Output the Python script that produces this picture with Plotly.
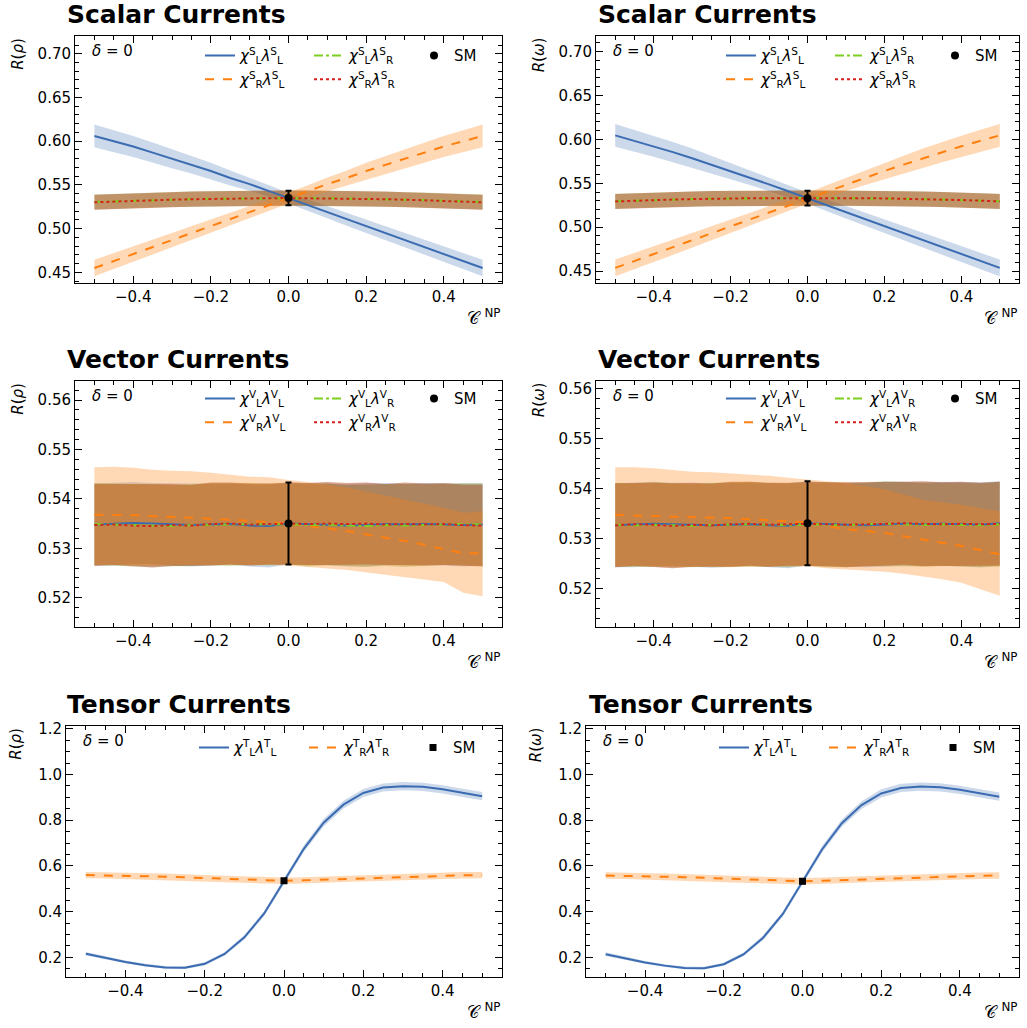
import plotly.graph_objects as go

W, H = 1027, 1028

# ---------------- data ----------------
c_np = [-0.5, -0.45, -0.4, -0.35, -0.3, -0.25, -0.2, -0.15, -0.1, -0.05, 0.0,
        0.05, 0.1, 0.15, 0.2, 0.25, 0.3, 0.35, 0.4, 0.45, 0.5]

# Scalar currents, R(rho)
S_rho_LL = [0.606, 0.600, 0.594, 0.587, 0.580, 0.573, 0.566, 0.558, 0.551, 0.543, 0.535,
            0.527, 0.519, 0.511, 0.503, 0.495, 0.487, 0.479, 0.471, 0.463, 0.455]
S_rho_LL_err = [0.013, 0.0125, 0.012, 0.0115, 0.011, 0.010, 0.0095, 0.0085, 0.0075, 0.0068, 0.0062,
                0.0065, 0.007, 0.0075, 0.008, 0.0083, 0.0086, 0.0089, 0.0091, 0.0093, 0.0095]
S_rho_RL = [0.455, 0.463, 0.471, 0.479, 0.487, 0.495, 0.503, 0.511, 0.519, 0.527, 0.535,
            0.543, 0.551, 0.558, 0.566, 0.573, 0.580, 0.587, 0.594, 0.600, 0.606]
S_rho_RL_err = [0.0095, 0.0093, 0.0091, 0.0089, 0.0086, 0.0083, 0.008, 0.0075, 0.007, 0.0065, 0.0062,
                0.0068, 0.0075, 0.0085, 0.0095, 0.010, 0.011, 0.0115, 0.012, 0.0125, 0.013]
S_rho_LR = [0.5305, 0.5313, 0.5320, 0.5327, 0.5333, 0.5338, 0.5342, 0.5345, 0.5348, 0.5350, 0.5350,
            0.5350, 0.5348, 0.5345, 0.5342, 0.5338, 0.5333, 0.5327, 0.5320, 0.5313, 0.5305]
S_rho_LR_err = [0.0085, 0.0085, 0.0086, 0.0086, 0.0086, 0.0087, 0.0087, 0.0087, 0.0087, 0.0087, 0.0087,
                0.0087, 0.0087, 0.0087, 0.0087, 0.0087, 0.0086, 0.0086, 0.0086, 0.0085, 0.0085]
S_rho_RR = [0.5302, 0.5311, 0.5319, 0.5326, 0.5332, 0.5337, 0.5342, 0.5346, 0.5348, 0.5349, 0.5350,
            0.5349, 0.5348, 0.5346, 0.5342, 0.5337, 0.5332, 0.5326, 0.5319, 0.5311, 0.5302]
S_rho_RR_err = [0.0085, 0.0085, 0.0086, 0.0086, 0.0086, 0.0087, 0.0087, 0.0087, 0.0087, 0.0087, 0.0087,
                0.0087, 0.0087, 0.0087, 0.0087, 0.0087, 0.0086, 0.0086, 0.0086, 0.0085, 0.0085]

# Scalar currents, R(omega)
S_om_LL = [0.6046, 0.5985, 0.5922, 0.5855, 0.5785, 0.5713, 0.5640, 0.5565, 0.5488, 0.5410, 0.5330,
           0.5250, 0.5170, 0.5090, 0.5010, 0.4930, 0.4850, 0.4772, 0.4694, 0.4615, 0.4536]
S_om_LL_err = [0.013, 0.0125, 0.012, 0.0115, 0.011, 0.010, 0.0095, 0.0085, 0.0075, 0.0068, 0.0062,
               0.0065, 0.007, 0.0075, 0.008, 0.0083, 0.0086, 0.0089, 0.0091, 0.0093, 0.0095]
S_om_RL = [0.4536, 0.4615, 0.4694, 0.4772, 0.4850, 0.4930, 0.5010, 0.5090, 0.5170, 0.5250, 0.5330,
           0.5410, 0.5488, 0.5565, 0.5640, 0.5713, 0.5785, 0.5855, 0.5922, 0.5985, 0.6046]
S_om_RL_err = [0.0095, 0.0093, 0.0091, 0.0089, 0.0086, 0.0083, 0.008, 0.0075, 0.007, 0.0065, 0.0062,
               0.0068, 0.0075, 0.0085, 0.0095, 0.010, 0.011, 0.0115, 0.012, 0.0125, 0.013]
S_om_LR = [0.5295, 0.5303, 0.5310, 0.5316, 0.5321, 0.5325, 0.5328, 0.5330, 0.5331, 0.5332, 0.5332,
           0.5332, 0.5331, 0.5330, 0.5328, 0.5325, 0.5321, 0.5316, 0.5310, 0.5303, 0.5295]
S_om_LR_err = [0.0085, 0.0085, 0.0086, 0.0086, 0.0086, 0.0087, 0.0087, 0.0087, 0.0087, 0.0087, 0.0087,
               0.0087, 0.0087, 0.0087, 0.0087, 0.0087, 0.0086, 0.0086, 0.0086, 0.0085, 0.0085]
S_om_RR = [0.5293, 0.5302, 0.5309, 0.5315, 0.5320, 0.5325, 0.5328, 0.5330, 0.5331, 0.5332, 0.5332,
           0.5332, 0.5331, 0.5330, 0.5328, 0.5325, 0.5320, 0.5315, 0.5309, 0.5302, 0.5293]
S_om_RR_err = [0.0085, 0.0085, 0.0086, 0.0086, 0.0086, 0.0087, 0.0087, 0.0087, 0.0087, 0.0087, 0.0087,
               0.0087, 0.0087, 0.0087, 0.0087, 0.0087, 0.0086, 0.0086, 0.0086, 0.0085, 0.0085]

# Vector currents, R(rho)
V_rho_LL = [0.5348, 0.5349, 0.5351, 0.5350, 0.5348, 0.5347, 0.5348, 0.5349, 0.5346, 0.5345, 0.5350,
            0.5349, 0.5348, 0.5346, 0.5347, 0.5349, 0.5348, 0.5349, 0.5348, 0.5347, 0.5348]
V_rho_LL_err = [0.0083, 0.0084, 0.0083, 0.0082, 0.0083, 0.0084, 0.0083, 0.0082, 0.0083, 0.0084, 0.0083,
                0.0083, 0.0082, 0.0083, 0.0084, 0.0083, 0.0082, 0.0083, 0.0083, 0.0084, 0.0083]
V_rho_RL = [0.5368, 0.5368, 0.5367, 0.5365, 0.5364, 0.5362, 0.5360, 0.5358, 0.5356, 0.5353, 0.5350,
            0.5345, 0.5340, 0.5335, 0.5328, 0.5322, 0.5315, 0.5307, 0.5298, 0.5290, 0.5290]
V_rho_RL_hi = [0.5464, 0.5465, 0.5463, 0.5459, 0.5457, 0.5456, 0.5453, 0.5449, 0.5445, 0.5444, 0.5438,
               0.5434, 0.5429, 0.5423, 0.5415, 0.5407, 0.5399, 0.5391, 0.5382, 0.5372, 0.5375]
V_rho_RL_lo = [0.5266, 0.5266, 0.5267, 0.5266, 0.5266, 0.5266, 0.5267, 0.5266, 0.5266, 0.5266, 0.5265,
               0.5262, 0.5259, 0.5256, 0.5251, 0.5247, 0.5241, 0.5237, 0.5232, 0.5210, 0.5203]
V_rho_LR = [0.5349, 0.5348, 0.5347, 0.5346, 0.5345, 0.5347, 0.5348, 0.5348, 0.5349, 0.5348, 0.5349,
            0.5347, 0.5348, 0.5346, 0.5345, 0.5347, 0.5346, 0.5347, 0.5348, 0.5349, 0.5348]
V_rho_LR_err = [0.0083, 0.0083, 0.0084, 0.0083, 0.0082, 0.0083, 0.0083, 0.0084, 0.0083, 0.0083, 0.0082,
                0.0084, 0.0083, 0.0082, 0.0083, 0.0083, 0.0084, 0.0083, 0.0082, 0.0083, 0.0084]
V_rho_RR = [0.5347, 0.5348, 0.5346, 0.5345, 0.5347, 0.5346, 0.5349, 0.5350, 0.5348, 0.5349, 0.5350,
            0.5349, 0.5350, 0.5349, 0.5350, 0.5348, 0.5349, 0.5348, 0.5349, 0.5347, 0.5346]
V_rho_RR_err = [0.0083, 0.0082, 0.0083, 0.0084, 0.0083, 0.0082, 0.0084, 0.0083, 0.0083, 0.0082, 0.0083,
                0.0083, 0.0084, 0.0083, 0.0083, 0.0082, 0.0084, 0.0083, 0.0083, 0.0082, 0.0083]

# Vector currents, R(omega)
V_om_LL = [0.5326, 0.5327, 0.5329, 0.5328, 0.5327, 0.5326, 0.5327, 0.5328, 0.5326, 0.5325, 0.5330,
           0.5328, 0.5327, 0.5326, 0.5328, 0.5329, 0.5328, 0.5329, 0.5328, 0.5327, 0.5330]
V_om_LL_err = [0.0084, 0.0085, 0.0084, 0.0083, 0.0084, 0.0085, 0.0084, 0.0083, 0.0084, 0.0085, 0.0084,
               0.0084, 0.0083, 0.0084, 0.0085, 0.0084, 0.0083, 0.0084, 0.0084, 0.0085, 0.0084]
V_om_RL = [0.5347, 0.5346, 0.5345, 0.5344, 0.5343, 0.5342, 0.5340, 0.5338, 0.5336, 0.5334, 0.5332,
           0.5325, 0.5318, 0.5315, 0.5311, 0.5304, 0.5297, 0.5291, 0.5285, 0.5276, 0.5268]
V_om_RL_hi = [0.5442, 0.5442, 0.5440, 0.5437, 0.5433, 0.5432, 0.5430, 0.5428, 0.5425, 0.5421, 0.5417,
              0.5414, 0.5411, 0.5405, 0.5398, 0.5388, 0.5377, 0.5372, 0.5367, 0.5360, 0.5354]
V_om_RL_lo = [0.5243, 0.5243, 0.5244, 0.5243, 0.5243, 0.5242, 0.5242, 0.5243, 0.5243, 0.5244, 0.5244,
              0.5240, 0.5237, 0.5235, 0.5233, 0.5229, 0.5224, 0.5218, 0.5211, 0.5198, 0.5185]
V_om_LR = [0.5327, 0.5326, 0.5327, 0.5326, 0.5325, 0.5327, 0.5328, 0.5328, 0.5327, 0.5326, 0.5328,
           0.5327, 0.5326, 0.5328, 0.5329, 0.5328, 0.5327, 0.5328, 0.5327, 0.5326, 0.5328]
V_om_LR_err = [0.0084, 0.0084, 0.0085, 0.0084, 0.0083, 0.0084, 0.0084, 0.0085, 0.0084, 0.0084, 0.0083,
               0.0085, 0.0084, 0.0083, 0.0085, 0.0084, 0.0084, 0.0083, 0.0084, 0.0084, 0.0085]
V_om_RR = [0.5326, 0.5328, 0.5327, 0.5325, 0.5327, 0.5326, 0.5328, 0.5329, 0.5327, 0.5328, 0.5329,
           0.5328, 0.5327, 0.5328, 0.5329, 0.5330, 0.5329, 0.5328, 0.5329, 0.5328, 0.5329]
V_om_RR_err = [0.0084, 0.0083, 0.0084, 0.0085, 0.0084, 0.0083, 0.0085, 0.0084, 0.0084, 0.0083, 0.0084,
               0.0084, 0.0085, 0.0084, 0.0084, 0.0083, 0.0085, 0.0084, 0.0084, 0.0083, 0.0084]

# Tensor currents
T_rho_LL = [0.216, 0.198, 0.180, 0.166, 0.156, 0.155, 0.172, 0.215, 0.288, 0.392, 0.535,
            0.675, 0.789, 0.868, 0.919, 0.943, 0.949, 0.946, 0.935, 0.921, 0.905]
T_rho_LL_err = [0.008, 0.007, 0.006, 0.006, 0.006, 0.006, 0.007, 0.008, 0.010, 0.011, 0.012,
                0.014, 0.016, 0.017, 0.018, 0.018, 0.018, 0.018, 0.018, 0.018, 0.018]
T_rho_RR = [0.560, 0.559, 0.557, 0.555, 0.553, 0.550, 0.547, 0.544, 0.540, 0.537, 0.535,
            0.537, 0.540, 0.544, 0.547, 0.550, 0.553, 0.555, 0.557, 0.559, 0.560]
T_rho_RR_err = [0.014, 0.014, 0.014, 0.014, 0.014, 0.014, 0.014, 0.014, 0.014, 0.014, 0.014,
                0.014, 0.014, 0.014, 0.014, 0.014, 0.014, 0.014, 0.014, 0.014, 0.014]
T_om_LL = [0.214, 0.196, 0.178, 0.164, 0.154, 0.153, 0.170, 0.213, 0.286, 0.390, 0.533,
           0.673, 0.787, 0.866, 0.917, 0.941, 0.947, 0.944, 0.933, 0.919, 0.903]
T_om_LL_err = [0.008, 0.007, 0.006, 0.006, 0.006, 0.006, 0.007, 0.008, 0.010, 0.011, 0.012,
               0.014, 0.016, 0.017, 0.018, 0.018, 0.018, 0.018, 0.018, 0.018, 0.018]
T_om_RR = [0.558, 0.557, 0.555, 0.553, 0.551, 0.548, 0.545, 0.542, 0.538, 0.535, 0.533,
           0.535, 0.538, 0.542, 0.545, 0.548, 0.551, 0.553, 0.555, 0.557, 0.558]
T_om_RR_err = [0.014, 0.014, 0.014, 0.014, 0.014, 0.014, 0.014, 0.014, 0.014, 0.014, 0.014,
               0.014, 0.014, 0.014, 0.014, 0.014, 0.014, 0.014, 0.014, 0.014, 0.014]

# Standard Model points
SM_c = [0.0]
SM_c_err = [0.005]
SM_rho = [0.535]
SM_rho_err = [0.0083]
SM_om = [0.533]
SM_om_err = [0.0084]

titles = ["Scalar Currents", "Scalar Currents", "Vector Currents", "Vector Currents",
          "Tensor Currents", "Tensor Currents"]
ylabels = ["<i>R</i>(<i>ρ</i>)", "<i>R</i>(<i>ω</i>)"] * 3

# ---------------- styling ----------------
FONT = "DejaVu Sans"
BLUE, ORANGE, GREEN, RED = "#3b6cb2", "#ff7f0e", "#7ccf1e", "#d81e1e"
F_BLUE = "rgba(58,107,179,0.26)"
F_ORANGE = "rgba(255,128,14,0.30)"
F_GREEN = "rgba(110,160,20,0.30)"
F_RED = "rgba(170,45,0,0.43)"


def lab(ch, a, b):
    return f"<i>χ</i><sup>{ch}</sup><sub>{a}</sub><i>λ</i><sup>{ch}</sup><sub>{b}</sub>"


# panel boxes in pixels: (left, top, right, bottom)
boxes = [(75, 30, 502, 279), (596, 30, 1019, 279),
         (75, 377, 502, 625), (596, 377, 1019, 625),
         (66, 724, 502, 977), (586, 724, 1019, 977)]

yranges = [[0.4375, 0.7205], [0.436, 0.718], [0.514, 0.5639], [0.5122, 0.5615],
           [0.113, 1.213], [0.113, 1.213]]
ydt = [0.05, 0.05, 0.01, 0.01, 0.2, 0.2]
ymin = [0.01, 0.01, 0.002, 0.002, 0.05, 0.05]
yfmt = [".2f", ".2f", ".2f", ".2f", ".1f", ".1f"]

fig = go.Figure()


def px(xp):
    return xp / W


def py(yp):
    return 1 - yp / H


def xa_name(i):
    return "x" if i == 0 else f"x{i + 1}"


def ya_name(i):
    return "y" if i == 0 else f"y{i + 1}"


def band(xa, ya, lo, hi, color, i):
    fig.add_trace(go.Scatter(x=xa + xa[::-1], y=hi + lo[::-1], fill="toself", fillcolor=color,
                             line=dict(width=0), mode="lines", showlegend=False, hoverinfo="skip",
                             xaxis=xa_name(i), yaxis=ya_name(i)))


legend_count = [1]
legend_layouts = {}


def new_legend(xp, yp):
    legend_count[0] += 1
    name = f"legend{legend_count[0]}"
    legend_layouts[name] = dict(x=px(xp), y=py(yp), xanchor="left", yanchor="middle",
                                bgcolor="rgba(0,0,0,0)", borderwidth=0, itemwidth=30,
                                font=dict(family=FONT, size=15, color="black"), tracegroupgap=0)
    return name


def line(xa, ya, color, dash, name, i, leg):
    fig.add_trace(go.Scatter(x=xa, y=ya, mode="lines", line=dict(color=color, width=2, dash=dash),
                             name=name, legend=leg, xaxis=xa_name(i), yaxis=ya_name(i)))


def add(a, e):
    return [u + v for u, v in zip(a, e)]


def sub(a, e):
    return [u - v for u, v in zip(a, e)]


scalar_vector = [
    (0, "S", S_rho_LL, S_rho_LL_err, S_rho_RL, sub(S_rho_RL, S_rho_RL_err), add(S_rho_RL, S_rho_RL_err),
     S_rho_LR, S_rho_LR_err, S_rho_RR, S_rho_RR_err, SM_rho, SM_rho_err),
    (1, "S", S_om_LL, S_om_LL_err, S_om_RL, sub(S_om_RL, S_om_RL_err), add(S_om_RL, S_om_RL_err),
     S_om_LR, S_om_LR_err, S_om_RR, S_om_RR_err, SM_om, SM_om_err),
    (2, "V", V_rho_LL, V_rho_LL_err, V_rho_RL, V_rho_RL_lo, V_rho_RL_hi,
     V_rho_LR, V_rho_LR_err, V_rho_RR, V_rho_RR_err, SM_rho, SM_rho_err),
    (3, "V", V_om_LL, V_om_LL_err, V_om_RL, V_om_RL_lo, V_om_RL_hi,
     V_om_LR, V_om_LR_err, V_om_RR, V_om_RR_err, SM_om, SM_om_err),
]

LEG_OFF = 4   # px between legend box left and symbol start
for (i, ch, LL, LLe, RL, RLlo, RLhi, LR, LRe, RR, RRe, smy, smye) in scalar_vector:
    l, t, r, b = boxes[i]
    r1 = t + (20 if ch == "S" else 18)
    r2 = t + (44 if ch == "S" else 42)
    band(c_np, LL, sub(LL, LLe), add(LL, LLe), F_BLUE, i)
    band(c_np, LR, sub(LR, LRe), add(LR, LRe), F_GREEN, i)
    band(c_np, RR, sub(RR, RRe), add(RR, RRe), F_RED, i)
    band(c_np, RL, RLlo, RLhi, F_ORANGE, i)
    line(c_np, LL, BLUE, "solid", lab(ch, "L", "L"), i, new_legend(l + 129 - LEG_OFF, r1))
    line(c_np, RL, ORANGE, "dash", lab(ch, "R", "L"), i, new_legend(l + 129 - LEG_OFF, r2))
    line(c_np, LR, GREEN, "dashdot", lab(ch, "L", "R"), i, new_legend(l + 238 - LEG_OFF, r1))
    line(c_np, RR, RED, "dot", lab(ch, "R", "R"), i, new_legend(l + 238 - LEG_OFF, r2))
    fig.add_trace(go.Scatter(x=SM_c, y=smy, mode="markers", name="SM",
                             marker=dict(color="black", size=8, symbol="circle"),
                             error_y=dict(type="data", array=smye, color="black", thickness=2, width=3),
                             error_x=dict(type="data", array=SM_c_err, color="black", thickness=2, width=0),
                             legend=new_legend(l + 339, r1),
                             xaxis=xa_name(i), yaxis=ya_name(i)))

tensor = [(4, T_rho_LL, T_rho_LL_err, T_rho_RR, T_rho_RR_err, SM_rho, SM_rho_err),
          (5, T_om_LL, T_om_LL_err, T_om_RR, T_om_RR_err, SM_om, SM_om_err)]
for (i, LL, LLe, RR, RRe, smy, smye) in tensor:
    l, t, r, b = boxes[i]
    r1 = t + 22
    band(c_np, LL, sub(LL, LLe), add(LL, LLe), F_BLUE, i)
    band(c_np, RR, sub(RR, RRe), add(RR, RRe), F_ORANGE, i)
    line(c_np, LL, BLUE, "solid", lab("T", "L", "L"), i, new_legend(l + 132 - LEG_OFF, r1))
    line(c_np, RR, ORANGE, "dash", lab("T", "R", "R"), i, new_legend(l + 242 - LEG_OFF, r1))
    fig.add_trace(go.Scatter(x=SM_c, y=smy, mode="markers", name="SM",
                             marker=dict(color="black", size=7, symbol="square"),
                             error_y=dict(type="data", array=smye, color="black", thickness=2, width=3),
                             error_x=dict(type="data", array=SM_c_err, color="black", thickness=2, width=0),
                             legend=new_legend(l + 347, r1),
                             xaxis=xa_name(i), yaxis=ya_name(i)))

layout = dict(width=W, height=H, margin=dict(l=0, r=0, t=0, b=0), plot_bgcolor="white",
              paper_bgcolor="white", font=dict(family=FONT, size=15, color="black"),
              showlegend=True)
layout.update(legend_layouts)

annotations = []
for i, (l, t, r, b) in enumerate(boxes):
    xk = "xaxis" if i == 0 else f"xaxis{i + 1}"
    yk = "yaxis" if i == 0 else f"yaxis{i + 1}"
    common = dict(showline=True, linecolor="black", linewidth=1, mirror="ticks", ticks="inside",
                  ticklen=7, tickwidth=1, tickcolor="black", showgrid=False, zeroline=False,
                  tickfont=dict(family=FONT, size=15, color="black"))
    layout[xk] = dict(domain=[px(l), px(r)], anchor=ya_name(i), range=[-0.55, 0.55], tick0=0, dtick=0.2,
                      tickformat=".1f",
                      minor=dict(ticks="inside", ticklen=4, tickcolor="black", dtick=0.05, tick0=0),
                      **common)
    layout[yk] = dict(domain=[py(b), py(t)], anchor=xa_name(i), range=yranges[i], tick0=0, dtick=ydt[i],
                      tickformat=yfmt[i],
                      minor=dict(ticks="inside", ticklen=4, tickcolor="black", dtick=ymin[i], tick0=0),
                      **common)
    # title
    tx = 65 if i % 2 == 0 else (587 if i == 5 else 596)
    annotations.append(dict(text=f"<b>{titles[i]}</b>", x=px(tx), y=py(t - 21), xref="paper", yref="paper",
                            xanchor="left", yanchor="middle", showarrow=False,
                            font=dict(family=FONT, size=25, color="black")))
    # y label
    annotations.append(dict(text=ylabels[i], x=px(l - (57 if i < 4 else 50)), y=py(t), xref="paper",
                            yref="paper", xanchor="center", yanchor="top", textangle=-90, showarrow=False,
                            font=dict(family=FONT, size=15, color="black")))
    # x label
    annotations.append(dict(text="𝒞 <sup>NP</sup>", x=px(r), y=py(b + 34), xref="paper", yref="paper",
                            xanchor="right", yanchor="middle", showarrow=False,
                            font=dict(family=FONT, size=17, color="black")))
    # delta
    annotations.append(dict(text="<i>δ</i> = 0", x=px(l + 15), y=py(t + 15), xref="paper", yref="paper",
                            xanchor="left", yanchor="middle", showarrow=False,
                            font=dict(family=FONT, size=15, color="black")))
layout["annotations"] = annotations

fig.update_layout(**layout)
fig.write_html("out.html", config={"displayModeBar": False},
               post_script="document.body.style.margin='0';document.body.style.overflow='hidden';"
                           "document.documentElement.style.overflow='hidden';")
